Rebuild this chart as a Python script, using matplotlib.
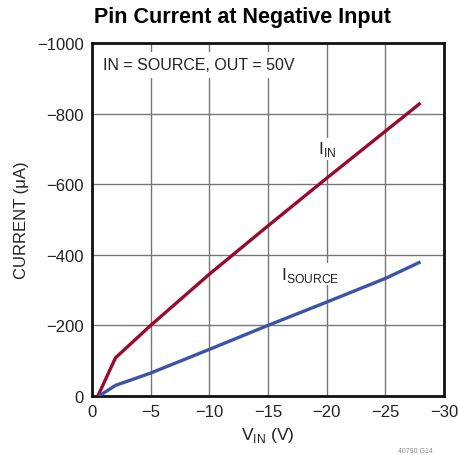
import matplotlib.pyplot as plt
import numpy as np

plt.rcParams['font.family'] = ['Liberation Sans Narrow', 'Liberation Sans', 'DejaVu Sans']

# Values
v_in = [-0.5, -2.0, -5.0, -10.0, -15.0, -20.0, -25.0, -28.0]
i_in = [0, -108, -200, -345, -482, -617, -750, -830]
v_src = [-0.6, -2.0, -5.0, -10.0, -15.0, -20.0, -25.0, -28.0]
i_src = [0, -30, -65, -132, -200, -266, -333, -380]

x_ticks = [0, -5, -10, -15, -20, -25, -30]
y_ticks = [0, -200, -400, -600, -800, -1000]

red = '#9a0a2e'
blue = '#3a55a8'

fig = plt.figure(figsize=(4.58, 4.56), dpi=100)
ax = fig.add_axes([92 / 458, 1 - 397 / 456, 352 / 458, 353 / 456])

ax.plot(v_in, i_in, color=red, lw=2.4, solid_capstyle='butt', zorder=3)
ax.plot(v_src, i_src, color=blue, lw=2.4, solid_capstyle='butt', zorder=3)

ax.set_xlim(0, -30)
ax.set_ylim(0, -1000)
ax.set_xticks(x_ticks)
ax.set_yticks(y_ticks)
ax.set_xticklabels(['0' if t == 0 else '\u2212%d' % -t for t in x_ticks])
ax.set_yticklabels(['0' if t == 0 else '\u2212%d' % -t for t in y_ticks])
ax.tick_params(length=0, labelsize=12, pad=6, colors='#222222')
ax.grid(True, color='#777777', lw=1.0)
ax.set_axisbelow(True)
for s in ax.spines.values():
    s.set_linewidth(2)
    s.set_color('#111111')

ax.set_xlabel('V$_{\\mathregular{IN}}$ (V)', fontsize=12.5, color='#222222', labelpad=4)
ax.set_ylabel('CURRENT (\u03bcA)', fontsize=12, color='#222222', labelpad=6)

fig.text(242 / 458, 1 - 18 / 456, 'Pin Current at Negative Input', ha='center', va='center',
         fontsize=15.5, fontweight='bold', color='black')

ax.text(0.03, 0.96, 'IN = SOURCE, OUT = 50V', transform=ax.transAxes, ha='left', va='top',
        fontsize=11.5, color='#222222',
        bbox=dict(facecolor='white', edgecolor='none', pad=4), zorder=2)

ax.text(-20.0, -700, 'I$_{\\mathregular{IN}}$', ha='center', va='center', fontsize=12.5,
        color='#222222', bbox=dict(facecolor='white', edgecolor='none', pad=1), zorder=2)
ax.text(-18.6, -345, 'I$_{\\mathregular{SOURCE}}$', ha='center', va='center', fontsize=12.5,
        color='#222222', bbox=dict(facecolor='white', edgecolor='none', pad=1), zorder=2)

fig.text(415 / 458, 0.002, '40790 G14', ha='center', va='bottom', fontsize=5, color='#888888')

fig.savefig('out.png', dpi=100)
